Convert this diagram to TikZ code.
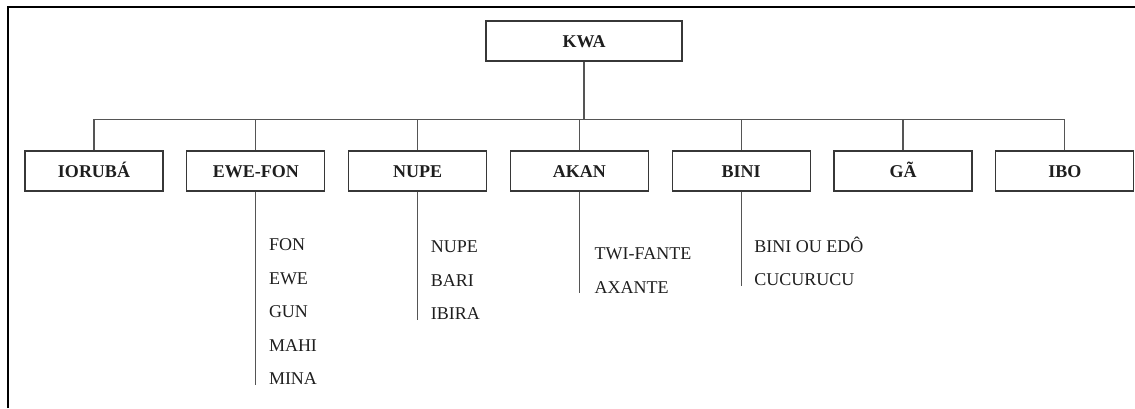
\documentclass[tikz,border=0pt]{standalone}
\usepackage{fontspec}
\setmainfont{Liberation Serif}
\usetikzlibrary{positioning}
\definecolor{boxline}{RGB}{55,55,55}
\definecolor{linkline}{RGB}{85,85,85}
\definecolor{inkcolor}{RGB}{30,30,30}

\begin{document}
\begin{tikzpicture}[
    x=1pt, y=-1pt,
    group/.style={rectangle, draw=boxline, line width=1.3pt, minimum width=138pt, minimum height=40pt, text height=12pt, text depth=0pt, text=inkcolor, font=\fontsize{18}{20}\selectfont\bfseries},
    root/.style={group, minimum width=196pt},
    sublist/.style={anchor=north west, inner sep=0pt, align=left, text=inkcolor, font=\fontsize{18}{33.5}\selectfont},
    link/.style={draw=linkline, line width=1.1pt},
]
\useasboundingbox (0,0) rectangle (1135,408);

% Frame
\draw[line width=2pt] (8,408) -- (8,7) -- (1135,7);

% Root
\node[root] (kwa) at (584,41) {KWA};

% Groups
\node[group] (ioruba) at (94,171) {IORUBÁ};
\node[group, right=22.5pt of ioruba] (ewefon) {EWE-FON};
\node[group, right=22.5pt of ewefon] (nupe) {NUPE};
\node[group, right=22.5pt of nupe] (akan) {AKAN};
\node[group, right=22.5pt of akan] (bini) {BINI};
\node[group, right=22.5pt of bini] (ga) {GÃ};
\node[group, right=22.5pt of ga] (ibo) {IBO};

% Bus
\draw[link] (kwa.south) -- ++(0,58) coordinate (bus);
\foreach \g in {ioruba, ewefon, nupe, akan, bini, ga, ibo}
    \draw[link] (bus) -| (\g.north);

% Languages
\node[sublist] (ewelist) at ([xshift=13pt, yshift=-47pt]ewefon.south) {FON\\EWE\\GUN\\MAHI\\MINA};
\node[sublist] (nupelist) at ([xshift=13pt, yshift=-49pt]nupe.south) {NUPE\\BARI\\IBIRA};
\node[sublist] (akanlist) at ([xshift=15pt, yshift=-56pt]akan.south) {TWI-FANTE\\AXANTE};
\node[sublist] (binilist) at ([xshift=13pt, yshift=-45pt]bini.south) {BINI OU EDÔ\\CUCURUCU};

\draw[link] (ewefon.south) -- (ewefon.south |- ewelist.south);
\draw[link] (nupe.south) -- (nupe.south |- nupelist.south);
\draw[link, line width=1.4pt] (akan.south) -- (akan.south |- akanlist.south);
\draw[link] (bini.south) -- (bini.south |- binilist.south);

\end{tikzpicture}
\end{document}
